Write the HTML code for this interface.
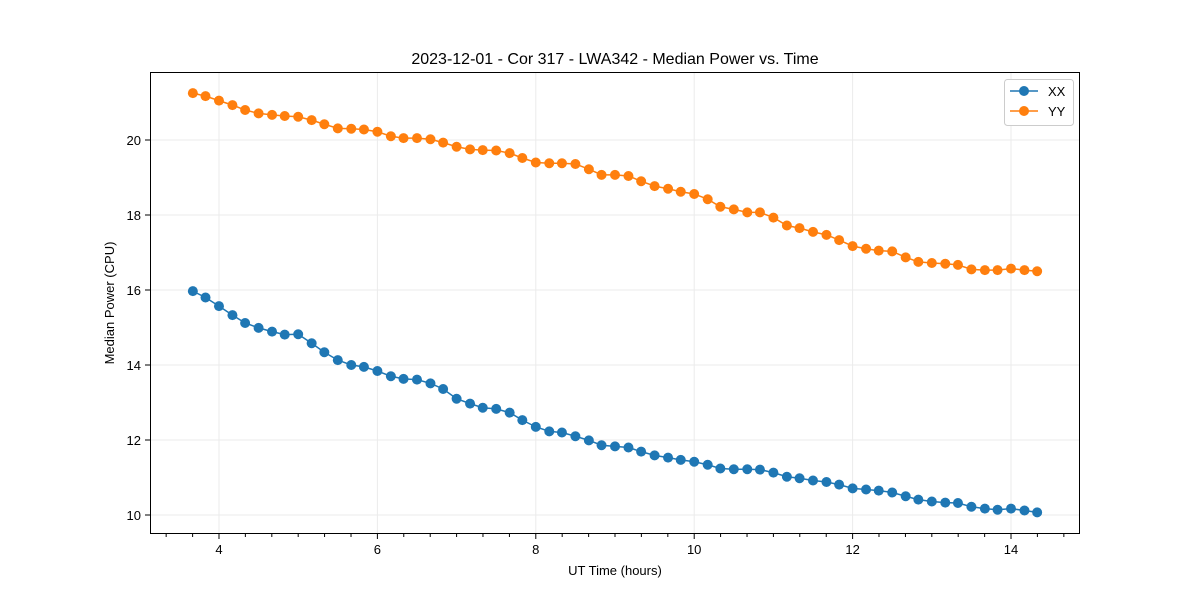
<!DOCTYPE html>
<html><head><meta charset="utf-8"><style>body{margin:0;background:#fff}svg{display:block;font-family:"Liberation Sans","DejaVu Sans",sans-serif}</style></head>
<body>
<svg id="chart" width="1200" height="600">
<rect width="1200" height="600" fill="#fff"/>
<text x="615" y="64" text-anchor="middle" font-size="16">2023-12-01 - Cor 317 - LWA342 - Median Power vs. Time</text>
<g id="grid"></g><g id="series"></g><g id="axes"></g>
<text x="615" y="575" text-anchor="middle" font-size="13">UT Time (hours)</text>
<text transform="translate(114,303) rotate(-90)" text-anchor="middle" font-size="13">Median Power (CPU)</text>
<g>
<rect x="1004.5" y="79.5" width="69" height="46" rx="3" fill="#fff" stroke="#ccc"/>
<g><line x1="1010" y1="91" x2="1038" y2="91" stroke="#1f77b4" stroke-width="1.5"/><circle cx="1024" cy="91" r="5" fill="#1f77b4"/><text x="1048" y="96" font-size="13">XX</text></g>
<g><line x1="1010" y1="111" x2="1038" y2="111" stroke="#ff7f0e" stroke-width="1.5"/><circle cx="1024" cy="111" r="5" fill="#ff7f0e"/><text x="1048" y="116" font-size="13">YY</text></g>
</g>
</svg>
<script>
const times=[3.67,3.83,4.00,4.17,4.33,4.50,4.67,4.83,5.00,5.17,5.33,5.50,5.67,5.83,6.00,6.17,6.33,6.50,6.67,6.83,7.00,7.17,7.33,7.50,7.67,7.83,8.00,8.17,8.33,8.50,8.67,8.83,9.00,9.17,9.33,9.50,9.67,9.83,10.00,10.17,10.33,10.50,10.67,10.83,11.00,11.17,11.33,11.50,11.67,11.83,12.00,12.17,12.33,12.50,12.67,12.83,13.00,13.17,13.33,13.50,13.67,13.83,14.00,14.17,14.33];
const xxValues=[15.97,15.80,15.57,15.33,15.12,14.99,14.89,14.81,14.82,14.58,14.34,14.13,14.00,13.95,13.84,13.70,13.63,13.61,13.51,13.36,13.10,12.97,12.86,12.83,12.73,12.53,12.35,12.23,12.20,12.10,11.99,11.86,11.83,11.80,11.69,11.59,11.53,11.47,11.42,11.34,11.24,11.22,11.22,11.21,11.13,11.02,10.98,10.92,10.88,10.81,10.71,10.68,10.65,10.60,10.50,10.41,10.36,10.33,10.32,10.22,10.17,10.14,10.17,10.12,10.07];
const yyValues=[21.25,21.17,21.05,20.93,20.80,20.71,20.67,20.64,20.62,20.53,20.42,20.31,20.30,20.28,20.22,20.10,20.05,20.05,20.02,19.93,19.82,19.75,19.73,19.72,19.65,19.52,19.40,19.38,19.38,19.36,19.22,19.07,19.07,19.04,18.90,18.77,18.70,18.62,18.56,18.42,18.22,18.15,18.07,18.07,17.93,17.72,17.65,17.55,17.47,17.33,17.17,17.10,17.05,17.03,16.87,16.75,16.72,16.70,16.67,16.55,16.53,16.53,16.57,16.53,16.50];
const xTicks=[4,6,8,10,12,14];
const xMinorTicks=[3.333,3.667,4.333,4.667,5,5.333,5.667,6.333,6.667,7,7.333,7.667,8.333,8.667,9,9.333,9.667,10.333,10.667,11,11.333,11.667,12.333,12.667,13,13.333,13.667,14.333,14.667];
const yTicks=[10,12,14,16,18,20];
const L=150,R=1080,T=72,B=534,x0=3.129,x1=14.871,y0=9.493,y1=21.813;
const sx=v=>L+(v-x0)/(x1-x0)*(R-L);
const sy=v=>B-(v-y0)/(y1-y0)*(B-T);
const NS='http://www.w3.org/2000/svg';
function mk(tag,attrs,parent){const e=document.createElementNS(NS,tag);for(const k in attrs)e.setAttribute(k,attrs[k]);parent.appendChild(e);return e;}
const grid=document.getElementById('grid'),axes=document.getElementById('axes'),ser=document.getElementById('series');
xTicks.forEach(t=>{const x=sx(t);
 const g=mk('line',{x1:x,x2:x,y1:T,y2:B,stroke:'#ebebeb','stroke-width':1},grid);
 
 
 mk('line',{x1:x,x2:x,y1:B,y2:B+5,stroke:'#000'},axes);
 const tx=mk('text',{x:x,y:B+20,'text-anchor':'middle','font-size':13},axes);tx.textContent=t;
 
 });
xMinorTicks.forEach(t=>{const x=sx(t);
 const m=mk('line',{x1:x,x2:x,y1:B,y2:B+3,stroke:'#000'},axes);
 
 });
yTicks.forEach(t=>{const y=sy(t);
 const g=mk('line',{x1:L,x2:R,y1:y,y2:y,stroke:'#ebebeb','stroke-width':1},grid);
 
 
 mk('line',{x1:L-5,x2:L,y1:y,y2:y,stroke:'#000'},axes);
 const tx=mk('text',{x:L-9,y:y+5,'text-anchor':'end','font-size':13},axes);tx.textContent=t;
 
 });
const frame=mk('rect',{x:L+0.5,y:T+0.5,width:R-L-1,height:B-T-1,fill:'none',stroke:'#000'},axes);


[[xxValues,'#1f77b4','xx'],[yyValues,'#ff7f0e','yy']].forEach(([vals,c,n])=>{
 const p=mk('polyline',{points:vals.map((v,i)=>sx(times[i])+','+sy(v)).join(' '),fill:'none',stroke:c,'stroke-width':1.5},ser);
 
 
 vals.forEach((v,i)=>{const m=mk('circle',{cx:sx(times[i]),cy:sy(v),r:5,fill:c},ser);
  
  });
});
</script>
</body></html>
